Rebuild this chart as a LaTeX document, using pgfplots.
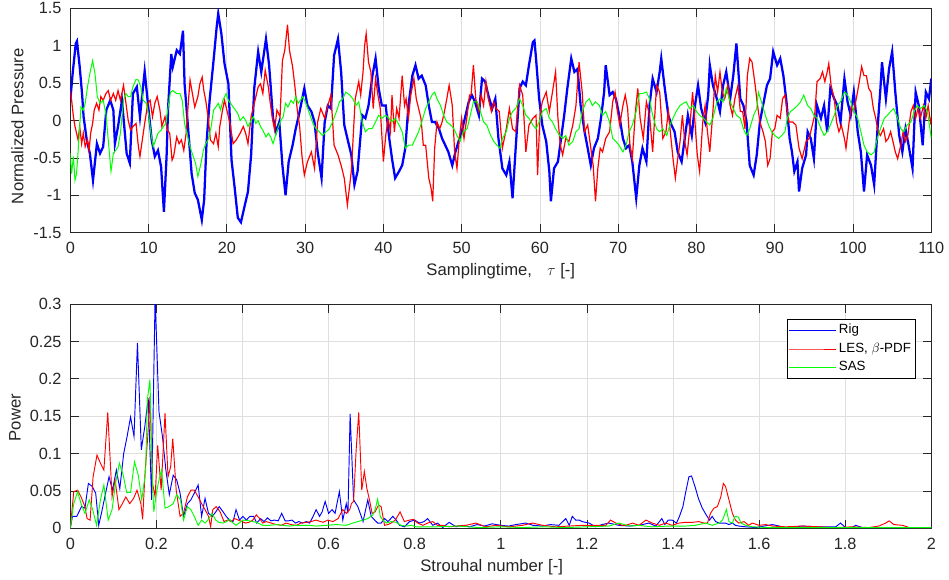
\documentclass[border=0pt]{standalone}
\usepackage{fontspec}
\setmainfont{Liberation Sans}
\usepackage{pgfplots}
\pgfplotsset{compat=1.18}
\definecolor{axgray}{RGB}{38,38,38}
\definecolor{gridgray}{RGB}{223,223,223}
\definecolor{mblue}{RGB}{0,0,255}
\definecolor{mred}{RGB}{255,0,0}
\definecolor{mgreen}{RGB}{0,255,0}
\pgfplotsset{
  matlab/.style={
    scale only axis,
    width=645.75pt,
    scaled ticks=false,
    axis line style={axgray, line width=0.6pt},
    every tick/.style={axgray, line width=0.6pt},
    major tick length=6.5pt,
    tick align=inside,
    grid=major,
    major grid style={gridgray, line width=0.6pt},
    tick label style={font=\fontsize{12.2}{14}\selectfont, text=axgray},
    label style={font=\fontsize{12.5}{15}\selectfont, text=axgray},
    /pgf/number format/assume math mode=true,
    /pgf/number format/fixed,
    /pgf/number format/precision=2,
    xticklabel style={yshift=-3.6pt},
    yticklabel style={xshift=-3.1pt},
  }
}
\begin{document}
\begin{tikzpicture}
% ---------------- top axis ----------------
\begin{axis}[matlab,
  at={(52.725pt,-174.525pt)}, anchor=south west,
  height=168.3pt,
  xmin=0, xmax=110, ymin=-1.5, ymax=1.5,
  xtick={0,10,20,30,40,50,60,70,80,90,100,110},
  ytick={-1.5,-1,-0.5,0,0.5,1,1.5},
  xlabel={Samplingtime,\hspace{0.9em}$\tau$ [-]},
  ylabel={Normalized Pressure},
  xlabel style={at={(axis description cs:0.5,-0.1907)}, anchor=base},
  ylabel style={at={(axis description cs:-0.0546,0.4746)}, anchor=base},
]
\addplot[mblue, line width=1.7pt] coordinates {
(0,0.27)(0.3,0.63)(0.7,1.03)(0.85,1.06)(1.2,0.72)(1.5,0.36)(1.7,0.05)(2.1,-0.26)(2.5,-0.44)(2.9,-0.80)
(3.4,-0.31)(3.8,-0.44)(4.2,-0.35)(4.6,0.14)(5.1,0.27)(5.5,0.14)(5.7,-0.31)(6.1,-0.08)(6.6,0.27)(7.2,-0.44)
(7.6,-0.57)(8.0,0.36)(8.5,0.45)(8.9,0.05)(9.5,0.66)(10.0,0.14)(10.4,-0.26)(10.8,-0.48)(11.2,-0.40)(11.6,-0.62)
(11.96,-1.22)(12.3,-0.48)(12.5,0.18)(12.9,0.89)(13.1,0.72)(13.6,0.94)(14.0,0.89)(14.4,1.20)(14.6,0.49)(15.1,-0.17)
(15.5,-0.71)(15.9,-0.97)(16.3,-1.06)(16.8,-1.33)(17.1,-1.06)(17.4,-0.31)(17.8,0.27)(18.3,0.80)(18.7,1.25)(18.9,1.43)
(19.3,1.16)(19.7,0.76)(20.2,0.49)(20.6,-0.53)(21.0,-0.90)(21.4,-1.30)(21.8,-1.36)(22.3,-1.13)(22.7,-0.95)(23.1,-0.46)
(23.5,0.43)(24.0,0.92)(24.4,0.65)(25.0,1.09)(25.4,0.74)(25.9,0.03)(26.3,-0.15)(26.7,-0.02)(27.1,-0.60)(27.5,-1.00)
(27.9,-0.55)(28.4,-0.33)(28.8,-0.11)(29.2,0.07)(29.9,0.43)(30.3,0.20)(30.8,0.12)(31.2,-0.02)(31.6,-0.42)(32.1,-0.77)
(32.5,-0.02)(32.9,0.20)(33.3,0.16)(33.7,0.87)(34.2,1.09)(34.6,0.65)(35.0,-0.06)(35.4,-0.24)(35.9,-0.46)(36.3,-0.86)
(36.7,-0.68)(37.3,0.07)(37.7,0.03)(38.1,0.20)(38.6,0.60)(39.0,0.83)(39.4,0.43)(39.8,0.20)(40.3,0.20)(40.7,-0.20)
(41.1,-0.51)(41.5,-0.77)(42.0,-0.68)(42.4,-0.60)(42.8,-0.37)(43.2,0.20)(43.7,0.60)(44.1,0.74)(44.5,0.56)(44.9,0.60)
(45.4,0.47)(45.8,0.20)(46.2,-0.02)(46.6,-0.02)(47.1,-0.11)(47.5,-0.24)(47.9,-0.33)(48.3,-0.42)(48.8,-0.60)(49.2,-0.42)
(49.6,-0.28)(50.0,-0.15)(50.5,0.07)(50.9,0.25)(51.3,0.34)(51.7,0.25)(52.2,0.07)(52.6,0.56)(53.0,0.52)(53.4,0.34)
(53.9,0.16)(54.3,0.29)(54.7,-0.24)(55.2,-0.64)(55.7,-0.73)(56.1,-0.55)(56.5,-1.04)(56.9,-0.37)(57.4,0.43)(57.8,0.52)
(58.2,0.47)(58.6,0.74)(59.1,1.05)(59.3,1.07)(59.5,0.83)(59.9,0.29)(60.3,-0.06)(60.8,-0.28)(61.2,-0.68)(61.4,-1.08)
(61.8,-0.64)(62.3,-0.55)(62.7,-0.24)(63.1,0.07)(63.5,0.43)(64.0,0.83)(64.4,0.65)(64.8,0.69)(65.2,0.20)(65.7,-0.15)
(66.1,-0.37)(66.5,-0.60)(66.9,-0.37)(67.4,-0.24)(67.8,0.03)(68.2,0.38)(68.4,0.74)(68.9,0.34)(69.3,0.38)(69.7,0.29)
(70.2,0.03)(70.6,-0.24)(71.0,-0.37)(71.4,-0.33)(71.8,-0.55)(72.3,-1.04)(72.7,-0.60)(73.1,-0.37)(73.6,-0.55)(74.0,0.20)
(74.4,0.56)(74.9,0.38)(75.3,0.65)(75.5,0.83)(75.9,0.47)(76.4,0.07)(76.8,-0.06)(77.2,-0.15)(77.6,-0.42)(78.1,-0.55)
(78.5,-0.24)(78.9,0.07)(79.4,-0.20)(79.8,0.20)(80.2,0.47)(80.6,0.16)(81.1,-0.02)(81.5,0.34)(81.7,0.74)(82.1,0.47)
(82.6,0.29)(83.0,0.12)(83.4,0.47)(83.8,0.65)(84.3,0.29)(84.7,0.60)(85.1,1.03)(85.6,0.29)(86.0,0.20)(86.4,-0.02)
(86.8,-0.60)(87.3,-0.73)(87.7,-0.46)(88.1,-0.02)(88.5,0.20)(89.0,0.47)(89.4,0.56)(89.8,0.92)(90.3,0.74)(90.7,0.83)
(91.1,0.60)(91.5,0.25)(91.9,-0.24)(92.2,-0.42)(92.5,-0.68)(92.9,-0.55)(93.1,-0.95)(93.5,-0.64)(94.0,-0.46)(94.2,-0.15)
(94.6,-0.24)(95.0,-0.51)(95.4,0.20)(95.9,0.03)(96.3,0.20)(96.7,-0.15)(97.1,0.43)(97.6,0.29)(98.0,0.20)(98.4,-0.02)
(98.9,0.56)(99.3,0.25)(99.7,0.07)(100.1,0.38)(100.6,-0.15)(101.0,-0.42)(101.4,-0.95)(101.8,-0.46)(102.3,-0.60)(102.7,-0.86)
(103.1,-0.15)(103.5,0.43)(103.7,0.78)(104.2,0.29)(104.6,0.69)(105.0,0.92)(105.4,0.38)(105.9,-0.20)(106.3,-0.42)(106.7,-0.11)
(107.1,-0.33)(107.6,-0.64)(108.0,0.38)(108.4,0.20)(108.9,-0.33)(109.3,0.38)(109.7,0.29)(110,0.56)
};
\addplot[mred, line width=0.9pt] coordinates {
(0,0.40)(0.17,0.27)(0.4,0.05)(0.6,-0.08)(0.8,-0.17)(1.0,-0.26)(1.2,-0.08)(1.45,-0.31)(1.66,-0.17)(1.9,-0.35)
(2.2,-0.26)(2.4,-0.40)(2.6,-0.17)(2.85,-0.04)(3.06,0.14)(3.36,0.23)(3.66,0.14)(3.9,0.32)(4.2,0.27)(4.55,0.36)
(4.85,0.40)(5.15,0.27)(5.5,0.36)(5.8,0.27)(6.1,0.40)(6.4,0.27)(6.8,0.47)(7.06,0.27)(7.4,0.00)(7.7,-0.13)
(8.0,-0.08)(8.4,-0.04)(8.7,-0.35)(8.9,-0.48)(9.2,-0.26)(9.5,-0.04)(9.9,0.23)(10.2,0.27)(10.5,0.05)(10.8,0.23)
(11.1,0.32)(11.45,0.14)(11.7,-0.08)(12.1,0.05)(12.4,-0.13)(12.7,-0.17)(13.0,-0.53)(13.2,-0.48)(13.6,-0.22)(13.9,-0.31)
(14.2,-0.26)(14.5,-0.40)(14.8,-0.17)(15.1,0.27)(15.3,0.54)(15.6,0.36)(15.9,0.18)(16.3,0.32)(16.55,0.49)(16.85,0.58)
(17.06,0.40)(17.3,0.27)(17.6,0.05)(17.9,-0.26)(18.3,-0.31)(18.6,-0.17)(18.9,-0.35)(19.1,-0.08)(19.45,0.14)(19.7,0.27)
(20.0,0.14)(20.4,-0.04)(20.8,-0.31)(21.2,-0.26)(21.7,-0.17)(22.1,-0.08)(22.4,-0.17)(22.7,-0.31)(23.1,0.05)(23.6,0.27)
(24.0,0.45)(24.3,0.49)(24.6,0.36)(24.9,0.67)(25.3,0.45)(25.5,0.27)(25.8,0.05)(26.1,-0.13)(26.4,0.14)(26.8,0.05)
(27.1,0.80)(27.4,0.94)(27.75,1.28)(28.0,0.94)(28.4,0.72)(28.7,0.45)(29.0,0.14)(29.3,-0.08)(29.6,-0.48)(29.9,-0.73)
(30.3,-0.55)(30.8,-0.42)(31.2,-0.64)(31.6,-0.02)(32.0,0.16)(32.5,0.03)(32.9,0.20)(33.3,0.34)(33.7,-0.33)(34.2,-0.46)
(34.6,-0.60)(35.0,-0.77)(35.4,-1.13)(35.9,-0.68)(36.1,-0.30)(36.4,0.29)(36.85,0.52)(37.1,0.34)(37.4,0.65)(37.6,1.00)
(37.8,1.16)(38.1,0.78)(38.4,0.65)(38.7,0.16)(39.0,0.56)(39.3,0.34)(39.6,0.16)(40.0,-0.55)(40.3,-0.20)(40.6,0.03)
(40.9,-0.15)(41.1,0.34)(41.4,-0.15)(41.7,0.16)(42.0,0.03)(42.4,0.60)(42.7,0.20)(42.9,0.29)(43.2,0.03)(43.5,0.34)
(43.9,0.56)(44.2,0.29)(44.5,0.16)(44.8,0.03)(45.1,-0.33)(45.4,-0.33)(45.8,-0.77)(46.1,-0.91)(46.3,-1.08)(46.55,-0.37)
(46.85,-0.02)(47.2,-0.11)(47.5,-0.02)(47.8,0.12)(48.1,0.29)(48.4,0.47)(48.8,0.20)(49.1,-0.42)(49.4,-0.64)(49.7,-0.24)
(50.0,0.03)(50.3,-0.24)(50.7,0.07)(51.0,0.34)(51.2,0.34)(51.5,0.74)(51.8,0.29)(52.2,0.12)(52.5,0.34)(52.8,0.20)
(53.1,0.52)(53.4,0.29)(53.8,0.12)(54.1,0.25)(54.4,0.16)(54.8,0.12)(55.2,-0.37)(55.7,-0.11)(56.1,0.16)(56.5,-0.11)
(56.9,-0.15)(57.4,0.47)(57.8,0.34)(58.2,-0.42)(58.6,-0.06)(59.1,0.03)(59.5,0.07)(59.7,-0.73)(60.0,0.07)(60.3,0.25)
(60.8,0.38)(61.2,0.12)(61.6,0.38)(62.0,0.65)(62.3,0.03)(62.6,-0.33)(62.9,-0.46)(63.3,-0.24)(63.7,-0.28)(64.2,-0.06)
(64.6,0.20)(65.0,0.78)(65.4,0.38)(65.7,-0.15)(66.1,-0.06)(66.5,-0.37)(66.8,-0.60)(67.1,-1.08)(67.4,-0.64)(67.7,-0.37)
(68.0,-0.42)(68.4,-0.24)(68.9,-0.15)(69.3,0.25)(69.6,0.38)(69.9,0.12)(70.2,-0.06)(70.6,0.20)(70.9,0.34)(71.2,0.16)
(71.5,-0.33)(71.8,-0.51)(72.2,0.12)(72.5,0.43)(72.8,0.03)(73.2,-0.24)(73.6,0.25)(74.0,0.07)(74.4,-0.42)(74.9,0.47)
(75.3,0.38)(75.7,-0.24)(76.1,-0.15)(76.4,0.12)(76.7,-0.20)(77.0,-0.51)(77.3,-0.77)(77.6,-0.51)(77.9,-0.28)(78.2,0.07)
(78.5,-0.28)(78.8,-0.46)(79.1,-0.15)(79.5,0.38)(79.8,-0.02)(80.1,-0.46)(80.4,-0.68)(80.8,-0.02)(81.1,0.20)(81.4,-0.15)
(81.7,-0.42)(82.1,0.12)(82.4,0.60)(82.7,0.38)(83.0,0.65)(83.3,0.38)(83.6,0.29)(84.0,0.47)(84.3,0.20)(84.6,0.07)
(84.9,0.29)(85.3,0.47)(85.6,0.12)(85.9,0.12)(86.2,-0.11)(86.5,0.60)(86.8,0.83)(87.1,0.78)(87.5,0.47)(87.8,0.20)
(88.1,-0.02)(88.5,-0.15)(88.8,-0.28)(89.1,-0.60)(89.4,-0.51)(89.7,-0.15)(90.0,-0.11)(90.3,0.07)(90.7,0.03)(91.0,0.29)
(91.3,0.34)(91.8,-0.02)(92.3,-0.02)(92.7,-0.06)(93.1,-0.37)(93.5,-0.51)(94.0,-0.28)(94.4,-0.24)(94.8,-0.06)(95.1,0.07)
(95.4,0.52)(95.8,0.56)(96.1,0.65)(96.4,0.52)(96.7,0.65)(96.9,0.76)(97.2,0.47)(97.6,0.29)(97.9,-0.02)(98.2,-0.15)
(98.5,-0.06)(98.9,-0.24)(99.1,-0.37)(99.5,-0.02)(99.8,0.20)(100.1,0.12)(100.5,0.34)(100.8,0.52)(101.1,0.72)(101.4,0.60)
(101.7,0.60)(102.0,0.43)(102.3,0.38)(102.6,0.16)(102.9,0.03)(103.2,-0.15)(103.5,-0.20)(103.9,-0.11)(104.2,-0.28)(104.5,-0.24)
(104.8,-0.15)(105.1,-0.28)(105.4,-0.42)(105.7,-0.51)(106.1,-0.33)(106.4,-0.15)(106.7,-0.28)(107.0,-0.20)(107.4,0.12)(107.7,0.20)
(108.0,0.03)(108.3,0.16)(108.6,0.03)(109.0,0.20)(109.3,0.03)(109.6,0.20)(109.9,-0.02)(110,0.03)
};
\addplot[mgreen, line width=0.75pt] coordinates {
(0,-0.44)(0.17,-0.71)(0.4,-0.48)(0.6,-0.80)(0.8,-0.71)(1.1,-0.26)(1.36,0.18)(1.66,0.14)(1.9,0.23)(2.2,0.45)
(2.5,0.63)(2.85,0.80)(3.15,0.63)(3.45,0.32)(3.8,0.23)(4.2,0.27)(4.55,0.09)(4.85,-0.26)(5.2,-0.68)(5.5,-0.44)
(5.8,-0.40)(6.1,-0.35)(6.4,-0.17)(6.8,0.27)(7.1,0.36)(7.4,0.32)(7.7,0.32)(8.0,0.45)(8.4,0.55)(8.7,0.54)
(9.0,0.45)(9.3,0.27)(9.7,0.23)(10.0,0.09)(10.3,-0.17)(10.6,-0.35)(10.9,-0.26)(11.2,-0.17)(11.6,-0.13)(11.9,-0.08)
(12.2,-0.04)(12.5,0.18)(12.8,0.38)(13.1,0.40)(13.6,0.36)(14.0,0.36)(14.3,0.27)(14.6,-0.04)(14.9,-0.17)(15.3,-0.35)
(15.7,-0.48)(16.0,-0.57)(16.3,-0.75)(16.7,-0.57)(17.0,-0.40)(17.3,-0.31)(17.6,-0.26)(18.0,-0.08)(18.3,0.14)(18.6,0.18)
(18.9,0.23)(19.2,0.14)(19.5,0.27)(19.9,0.36)(20.2,0.27)(20.5,0.23)(20.8,0.18)(21.1,0.14)(21.4,0.09)(21.7,0.00)
(22.1,0.05)(22.4,0.00)(22.7,-0.08)(23.1,0.00)(23.4,0.05)(23.7,-0.04)(24.0,0.00)(24.3,-0.08)(24.6,-0.13)(25.0,-0.22)
(25.3,-0.17)(25.6,-0.22)(25.9,-0.31)(26.3,-0.17)(26.6,-0.08)(26.9,0.00)(27.2,0.05)(27.5,0.23)(27.8,0.18)(28.2,0.27)
(28.5,0.23)(28.8,0.32)(29.1,0.23)(29.4,0.27)(29.7,0.32)(30.1,0.23)(30.4,0.14)(30.7,0.05)(31.0,-0.04)(31.4,-0.11)
(31.8,-0.15)(32.2,-0.20)(32.7,-0.15)(33.1,-0.11)(33.5,-0.02)(34.0,0.12)(34.4,0.25)(34.8,0.29)(35.2,0.38)(35.7,0.34)
(36.1,0.29)(36.5,0.20)(36.85,0.25)(37.3,-0.02)(37.7,-0.15)(38.1,-0.11)(38.55,-0.11)(39.0,-0.02)(39.4,0.07)(39.8,0.03)
(40.3,0.07)(40.7,0.03)(41.1,-0.02)(41.5,0.03)(42.0,-0.06)(42.4,-0.15)(42.8,-0.37)(43.2,-0.33)(43.7,-0.33)(44.1,-0.24)
(44.5,-0.15)(44.9,-0.02)(45.4,0.16)(45.8,0.25)(46.2,0.34)(46.55,0.38)(46.85,0.29)(47.3,0.20)(47.7,0.07)(48.1,-0.02)
(48.6,-0.06)(49.0,-0.11)(49.4,-0.20)(49.8,-0.28)(50.2,-0.15)(50.7,-0.11)(51.1,0.07)(51.5,0.25)(52.0,0.25)(52.4,0.12)
(52.8,-0.02)(53.2,-0.06)(53.7,-0.20)(54.1,-0.28)(54.5,-0.33)(54.9,-0.37)(55.2,-0.24)(55.7,-0.15)(56.1,0.03)(56.5,0.12)
(56.9,0.16)(57.4,0.29)(57.8,0.20)(58.2,0.07)(58.6,0.03)(59.1,-0.06)(59.5,-0.11)(59.9,-0.02)(60.3,0.12)(60.8,0.16)
(61.2,0.03)(61.6,-0.02)(62.0,-0.11)(62.5,-0.20)(62.9,-0.24)(63.3,-0.20)(63.7,-0.33)(64.2,-0.28)(64.6,-0.15)(65.0,-0.11)
(65.4,0.12)(65.9,0.25)(66.3,0.29)(66.7,0.20)(67.1,0.25)(67.6,0.20)(68.0,0.07)(68.4,0.12)(68.9,-0.02)(69.3,-0.24)
(69.7,-0.28)(70.1,-0.33)(70.6,-0.42)(71.0,-0.33)(71.4,-0.15)(71.8,-0.06)(72.3,0.12)(72.7,0.36)(73.1,0.36)(73.6,0.38)
(74.0,0.29)(74.4,0.07)(74.9,-0.11)(75.3,-0.15)(75.7,-0.11)(76.2,-0.20)(76.6,-0.06)(77.0,0.03)(77.4,0.12)(77.9,0.20)
(78.3,0.23)(78.7,0.25)(79.1,0.16)(79.6,0.20)(80.0,0.12)(80.4,0.07)(80.9,0.03)(81.3,-0.02)(81.7,-0.06)(82.1,0.03)
(82.6,0.25)(83.0,0.29)(83.4,0.25)(83.8,0.43)(84.3,0.25)(84.7,0.16)(85.1,0.07)(85.6,0.03)(86.0,-0.11)(86.4,-0.20)
(86.8,-0.11)(87.3,0.07)(87.7,0.16)(87.9,0.38)(88.3,0.25)(88.8,0.07)(89.2,-0.06)(89.6,-0.15)(90.0,-0.20)(90.5,-0.24)
(90.9,-0.20)(91.3,-0.15)(91.6,0.03)(92.0,0.12)(92.5,0.16)(92.9,0.20)(93.3,0.25)(93.7,0.34)(94.2,0.20)(94.6,0.16)
(95.0,0.07)(95.4,0.03)(95.9,-0.11)(96.3,-0.20)(96.7,-0.15)(97.1,-0.06)(97.6,0.07)(98.0,0.20)(98.4,0.25)(98.9,0.38)
(99.3,0.34)(99.7,0.25)(100.1,0.12)(100.6,0.03)(101.0,-0.15)(101.4,-0.33)(101.8,-0.42)(102.3,-0.46)(102.7,-0.42)(103.1,-0.24)
(103.5,-0.11)(104.0,0.03)(104.4,0.07)(104.8,0.12)(105.2,0.16)(105.7,0.03)(106.1,-0.11)(106.5,-0.15)(106.9,-0.06)(107.4,-0.02)
(107.8,0.12)(108.2,0.20)(108.6,0.16)(109.1,0.20)(109.5,0.12)(110,-0.24)
};
\end{axis}
% ---------------- bottom axis ----------------
\begin{axis}[matlab,
  at={(52.725pt,-396.225pt)}, anchor=south west,
  height=168.2pt,
  xmin=0, xmax=2, ymin=0, ymax=0.3,
  xtick={0,0.2,0.4,0.6,0.8,1,1.2,1.4,1.6,1.8,2},
  ytick={0,0.05,0.1,0.15,0.2,0.25,0.3},
  xlabel={Strouhal number [-]},
  ylabel={Power},
  xlabel style={at={(axis description cs:0.4894,-0.194)}, anchor=base},
  ylabel style={at={(axis description cs:-0.0576,0.494)}, anchor=base},
  legend cell align=left,
  legend image post style={xscale=2.03},
  legend style={at={(rel axis cs:0.9822,0.9318)}, anchor=north east,
    draw=black, fill=white,
    inner xsep=1.5pt, inner ysep=1.2pt, row sep=0pt,
    font=\fontsize{10}{12}\selectfont,
    nodes={inner sep=2.1pt, text height=7.4pt, text depth=2.3pt}},
]
\addplot[mblue, line width=0.7pt] coordinates {
(0,0)(0.005,0.016)(0.015,0.016)(0.026,0.029)(0.034,0.027)(0.042,0.060)(0.051,0.056)(0.059,0.047)(0.066,0.004)(0.073,0.022)
(0.082,0.047)(0.090,0.069)(0.098,0.051)(0.107,0.078)(0.115,0.053)(0.124,0.100)(0.132,0.123)(0.140,0.149)(0.148,0.123)(0.156,0.248)
(0.165,0.105)(0.173,0.136)(0.181,0.174)(0.189,0.038)(0.197,0.31)(0.206,0.156)(0.214,0.123)(0.222,0.078)(0.230,0.045)(0.239,0.071)
(0.247,0.065)(0.255,0.047)(0.263,0.016)(0.272,0.033)(0.280,0.038)(0.288,0.047)(0.297,0.058)(0.305,0.016)(0.313,0.040)(0.321,0.020)
(0.330,0.016)(0.338,0.022)(0.346,0.029)(0.355,0.022)(0.362,0.016)(0.370,0.011)(0.378,0.009)(0.385,0.025)(0.393,0.011)(0.401,0.016)
(0.409,0.011)(0.417,0.016)(0.426,0.016)(0.433,0.007)(0.442,0.013)(0.450,0.009)(0.458,0.014)(0.466,0.010)(0.474,0.011)(0.483,0.010)
(0.491,0.020)(0.499,0.010)(0.507,0.010)(0.515,0.011)(0.523,0.007)(0.531,0.009)(0.539,0.007)(0.548,0.009)(0.556,0.007)(0.564,0.016)
(0.571,0.025)(0.579,0.016)(0.585,0.022)(0.592,0.036)(0.600,0.020)(0.608,0.025)(0.615,0.020)(0.625,0.049)(0.633,0.011)(0.641,0.033)
(0.645,0.020)(0.650,0.153)(0.658,0.038)(0.668,0.029)(0.680,0.009)(0.691,0.038)(0.699,0.016)(0.707,0.011)(0.714,0.007)(0.722,0.007)
(0.730,0.013)(0.738,0.009)(0.749,0.016)(0.757,0.011)(0.765,0.004)(0.776,0.002)(0.788,0.009)(0.800,0.011)(0.811,0.007)(0.822,0.009)
(0.830,0.013)(0.842,0.004)(0.853,0.007)(0.865,0.001)(0.880,0.008)(0.896,0.002)(0.911,0.004)(0.927,0.002)(0.945,0.005)(0.962,0.003)
(0.980,0.006)(1.000,0.004)(1.018,0.003)(1.035,0.005)(1.058,0.007)(1.075,0.004)(1.097,0.003)(1.115,0.005)(1.135,0.004)(1.151,0.013)
(1.159,0.004)(1.166,0.016)(1.174,0.011)(1.182,0.011)(1.189,0.009)(1.205,0.007)(1.220,0.002)(1.235,0.005)(1.251,0.007)(1.274,0.004)
(1.298,0.003)(1.321,0.004)(1.344,0.007)(1.360,0.003)(1.374,0.013)(1.381,0.005)(1.389,0.011)(1.398,0.011)(1.408,0.007)(1.415,0.016)
(1.423,0.029)(1.429,0.047)(1.437,0.069)(1.443,0.070)(1.451,0.056)(1.459,0.040)(1.468,0.027)(1.477,0.018)(1.485,0.011)(1.491,0.016)
(1.499,0.009)(1.507,0.007)(1.522,0.007)(1.530,0.005)(1.538,0.007)(1.545,0.004)(1.553,0.003)(1.569,0.002)(1.592,0.001)(1.631,0.005)
(1.662,0.001)(1.700,0.003)(1.739,0.002)(1.778,0.002)(1.789,0.007)(1.801,0.001)(1.816,0.001)(1.824,0.004)(1.840,0.001)(1.894,0.001)
(1.971,0.001)(2.0,0.001)
};
\addlegendentry{Rig}
\addplot[mred, line width=0.7pt] coordinates {
(0,0)(0.008,0.049)(0.017,0.051)(0.025,0.042)(0.034,0.029)(0.039,0.013)(0.046,0.011)(0.053,0.069)(0.062,0.098)(0.070,0.087)
(0.078,0.078)(0.087,0.155)(0.097,0.042)(0.104,0.065)(0.113,0.025)(0.121,0.033)(0.129,0.042)(0.138,0.033)(0.147,0.040)(0.155,0.051)
(0.164,0.033)(0.168,0.012)(0.174,0.078)(0.180,0.123)(0.185,0.176)(0.191,0.060)(0.197,0.042)(0.203,0.111)(0.211,0.051)(0.220,0.154)
(0.227,0.069)(0.233,0.082)(0.238,0.120)(0.246,0.051)(0.255,0.016)(0.263,0.020)(0.272,0.042)(0.280,0.051)(0.288,0.051)(0.297,0.042)
(0.305,0.033)(0.313,0.025)(0.321,0.016)(0.326,0.002)(0.331,0.025)(0.339,0.029)(0.348,0.022)(0.357,0.009)(0.365,0.011)(0.374,0.009)
(0.382,0.013)(0.390,0.011)(0.399,0.009)(0.407,0.007)(0.415,0.008)(0.424,0.011)(0.432,0.018)(0.440,0.013)(0.447,0.007)(0.455,0.009)
(0.467,0.007)(0.478,0.005)(0.490,0.004)(0.501,0.007)(0.513,0.005)(0.525,0.004)(0.536,0.007)(0.548,0.008)(0.559,0.009)(0.571,0.011)
(0.587,0.008)(0.598,0.011)(0.610,0.009)(0.622,0.013)(0.633,0.025)(0.641,0.020)(0.649,0.025)(0.653,0.033)(0.658,0.036)(0.664,0.105)
(0.670,0.155)(0.677,0.051)(0.683,0.076)(0.689,0.053)(0.695,0.038)(0.701,0.020)(0.708,0.022)(0.716,0.031)(0.722,0.029)(0.730,0.004)
(0.738,0.005)(0.745,0.007)(0.755,0.011)(0.766,0.022)(0.776,0.009)(0.788,0.011)(0.797,0.012)(0.807,0.007)(0.819,0.004)(0.830,0.007)
(0.842,0.009)(0.853,0.004)(0.865,0.004)(0.880,0.002)(0.896,0.003)(0.919,0.004)(0.942,0.007)(0.965,0.002)(0.989,0.004)(1.019,0.002)
(1.050,0.004)(1.074,0.007)(1.097,0.004)(1.128,0.002)(1.159,0.003)(1.189,0.004)(1.220,0.004)(1.244,0.004)(1.255,0.011)(1.267,0.007)
(1.282,0.004)(1.290,0.004)(1.306,0.007)(1.321,0.004)(1.337,0.011)(1.352,0.007)(1.368,0.004)(1.383,0.007)(1.398,0.004)(1.414,0.007)
(1.429,0.008)(1.445,0.008)(1.460,0.009)(1.472,0.007)(1.480,0.007)(1.487,0.020)(1.495,0.027)(1.503,0.029)(1.511,0.042)(1.517,0.060)
(1.522,0.056)(1.530,0.038)(1.538,0.020)(1.545,0.011)(1.553,0.007)(1.565,0.009)(1.576,0.004)(1.584,0.007)(1.600,0.004)(1.615,0.005)
(1.631,0.003)(1.662,0.002)(1.700,0.003)(1.739,0.002)(1.778,0.001)(1.816,0.002)(1.855,0.001)(1.878,0.003)(1.894,0.007)(1.902,0.010)
(1.913,0.005)(1.933,0.004)(1.949,0.001)(1.971,0.001)(2.0,0.001)
};
\addlegendentry{LES, $\beta$-PDF}
\addplot[mgreen, line width=0.7pt] coordinates {
(0,0)(0.008,0.033)(0.017,0.049)(0.025,0.033)(0.034,0.020)(0.044,0.038)(0.052,0.025)(0.061,0.004)(0.070,0.038)(0.078,0.058)
(0.088,0.011)(0.097,0.025)(0.105,0.060)(0.114,0.087)(0.123,0.071)(0.131,0.048)(0.140,0.048)(0.149,0.089)(0.158,0.071)(0.166,0.038)
(0.175,0.076)(0.179,0.172)(0.185,0.199)(0.191,0.060)(0.194,0.022)(0.200,0.047)(0.206,0.065)(0.212,0.078)(0.220,0.027)(0.229,0.029)
(0.239,0.033)(0.247,0.045)(0.256,0.038)(0.263,0.011)(0.272,0.029)(0.280,0.025)(0.288,0.016)(0.297,0.004)(0.305,0.011)(0.313,0.007)
(0.321,0.012)(0.329,0.020)(0.338,0.011)(0.345,0.008)(0.355,0.007)(0.363,0.009)(0.370,0.012)(0.378,0.007)(0.385,0.004)(0.401,0.011)
(0.416,0.010)(0.432,0.008)(0.447,0.004)(0.463,0.004)(0.478,0.005)(0.494,0.004)(0.509,0.003)(0.525,0.004)(0.540,0.004)(0.556,0.004)
(0.571,0.003)(0.595,0.004)(0.618,0.005)(0.641,0.004)(0.656,0.007)(0.668,0.009)(0.680,0.011)(0.691,0.013)(0.703,0.018)(0.708,0.025)
(0.714,0.039)(0.720,0.016)(0.726,0.011)(0.735,0.007)(0.745,0.009)(0.757,0.008)(0.768,0.004)(0.780,0.003)(0.792,0.004)(0.803,0.002)
(0.85,0.002)(0.90,0.003)(0.95,0.001)(1.00,0.002)(1.05,0.001)(1.10,0.002)(1.15,0.001)(1.20,0.002)(1.251,0.003)(1.274,0.007)
(1.30,0.003)(1.32,0.004)(1.35,0.002)(1.392,0.003)(1.429,0.003)(1.452,0.004)(1.476,0.007)(1.491,0.004)(1.507,0.007)(1.515,0.011)
(1.524,0.025)(1.530,0.009)(1.538,0.007)(1.544,0.016)(1.552,0.015)(1.558,0.007)(1.569,0.004)(1.584,0.002)(1.623,0.001)(1.662,0.001)
(1.739,0.001)(2.0,0.001)
};
\addlegendentry{SAS}
\end{axis}
\pgfresetboundingbox
\path (0pt,0pt) rectangle (711.75pt,-434.25pt);
\end{tikzpicture}
\end{document}
